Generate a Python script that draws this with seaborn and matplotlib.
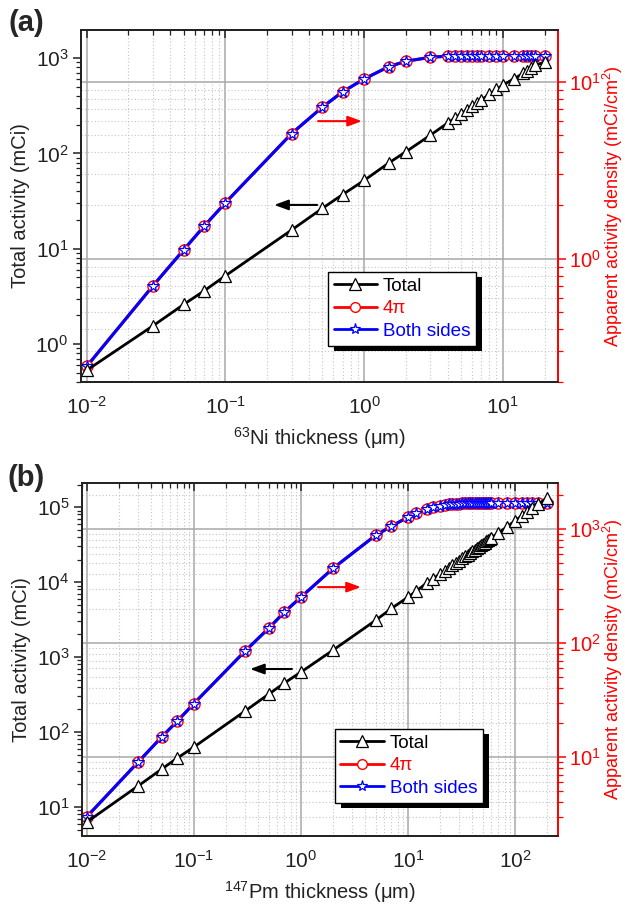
import matplotlib
matplotlib.use("Agg")
import matplotlib.pyplot as plt
import seaborn as sns
from matplotlib.lines import Line2D
from matplotlib.patches import Rectangle
from matplotlib.ticker import LogLocator, NullFormatter

# ---- data ----
# panel (a): 63Ni
x_a = [0.01, 0.03, 0.05, 0.07, 0.1, 0.3, 0.5, 0.7, 1, 1.5, 2, 3, 4, 4.5, 5,
       5.5, 6, 6.5, 7, 8, 9, 10, 12, 14, 15, 16, 17, 20]
total_a = [0.53, 1.55, 2.6, 3.6, 5.2, 15.7, 26.5, 37, 52, 79, 104, 155, 208, 234, 260,
           286, 312, 338, 364, 416, 468, 520, 605, 690, 736, 780, 845, 900]
fourpi_a = [0.245, 0.70, 1.12, 1.52, 2.07, 5.1, 7.2, 8.8, 10.4, 12.2, 13.1, 13.8, 14.0, 14.05, 14.1,
            14.1, 14.1, 14.1, 14.1, 14.1, 14.1, 14.1, 14.1, 14.1, 14.1, 14.1, 14.1, 14.1]
both_a = [0.245, 0.70, 1.12, 1.52, 2.07, 5.1, 7.2, 8.8, 10.4, 12.2, 13.1, 13.8, 14.0, 14.05, 14.1,
          14.1, 14.1, 14.1, 14.1, 14.1, 14.1, 14.1, 14.1, 14.1, 14.1, 14.1, 14.1, 14.1]

# panel (b): 147Pm
x_b = [0.01, 0.03, 0.05, 0.07, 0.1, 0.3, 0.5, 0.7, 1, 2, 5, 7, 10, 12, 15, 17,
       20, 22, 24, 26, 28, 30, 32, 34, 36, 38, 40, 42, 44, 46, 48, 50, 52, 54, 56, 58, 60,
       70, 85, 100, 115, 130, 145, 165, 200]
total_b = [6.3, 19, 32, 45, 63, 190, 320, 450, 630, 1240, 3100, 4450, 6300, 7600, 9800, 11000,
           12900, 14200, 15500, 16800, 18100, 19400, 20700, 22000, 23300, 24600, 25900, 27200,
           28500, 29800, 31000, 32300, 33600, 34900, 36200, 37500, 38800,
           45400, 55000, 66000, 76000, 86000, 96000, 109000, 134000]
fourpi_b = [3.0, 9.0, 15, 20.7, 29.5, 85, 135, 187, 253, 454, 885, 1060, 1275, 1380, 1490, 1560,
            1610, 1635, 1650, 1660, 1668, 1675, 1680, 1683, 1686, 1688, 1690, 1690, 1690, 1690,
            1690, 1690, 1690, 1690, 1690, 1690, 1690,
            1690, 1690, 1690, 1690, 1690, 1690, 1690, 1690]
both_b = list(fourpi_b)

RED = "#ff0000"
BLUE = "#0000ff"
INK = "#222222"

sns.set_style("white")
plt.rcParams['font.family'] = ['Liberation Sans', 'DejaVu Sans']
plt.rcParams['mathtext.fontset'] = 'custom'
plt.rcParams['mathtext.rm'] = 'Liberation Sans'
plt.rcParams['mathtext.it'] = 'Liberation Sans:italic'
plt.rcParams['mathtext.bf'] = 'Liberation Sans:bold'

TICK_FS = 15
LABEL_FS = 14.5


def panel(fig, rect, x, total, fourpi, both, xlim, ylim_l, ylim_r, xlabel,
          leg_xy, black_arrow, red_arrow, tag, tag_xy):
    ax_r = fig.add_axes(rect)          # density axis (right), carries the grid
    ax_r.set_xscale('log')
    ax_r.set_yscale('log')
    ax_l = ax_r.twinx()                # total activity axis (left), on top
    ax_l.set_yscale('log')

    ax_r.yaxis.tick_right()
    ax_r.yaxis.set_label_position('right')
    ax_l.yaxis.tick_left()
    ax_l.yaxis.set_label_position('left')

    # density lines first, then markers on top
    sns.lineplot(x=x, y=fourpi, ax=ax_r, color=RED, lw=2.2, sort=False)
    sns.lineplot(x=x, y=both, ax=ax_r, color=BLUE, lw=2.2, sort=False)
    sns.lineplot(x=x, y=fourpi, ax=ax_r, color=RED, ls='none', marker='o', ms=8,
                 mfc='white', mec=RED, mew=1.0, sort=False)
    sns.lineplot(x=x, y=both, ax=ax_r, color=BLUE, ls='none', marker='*', ms=8.5,
                 mfc='white', mec=BLUE, mew=0.9, sort=False)

    sns.lineplot(x=x, y=total, ax=ax_l, color='black', lw=2.0, marker='^', ms=9,
                 mfc='white', mec='black', mew=0.9, sort=False)

    ax_r.set_xlim(*xlim)
    ax_r.set_ylim(*ylim_r)
    ax_l.set_ylim(*ylim_l)

    for a in (ax_r, ax_l):
        a.yaxis.set_major_locator(LogLocator(base=10, numticks=20))
        a.yaxis.set_minor_locator(LogLocator(base=10, subs=range(2, 10), numticks=20))
        a.yaxis.set_minor_formatter(NullFormatter())
    ax_r.xaxis.set_major_locator(LogLocator(base=10, numticks=20))
    ax_r.xaxis.set_minor_locator(LogLocator(base=10, subs=range(2, 10), numticks=20))
    ax_r.xaxis.set_minor_formatter(NullFormatter())

    # grid
    ax_r.grid(which='major', axis='both', color='#a8a8a8', lw=1.1, ls='-')
    ax_r.grid(which='minor', axis='both', color='#c4c4c4', lw=0.8, ls=(0, (1, 2)))
    ax_l.grid(False)

    # spines
    for a in (ax_r, ax_l):
        for s in ('left', 'bottom', 'top'):
            a.spines[s].set_color(INK)
            a.spines[s].set_linewidth(1.3)
        a.spines['right'].set_color(RED)
        a.spines['right'].set_linewidth(1.3)

    # ticks
    ax_r.tick_params(axis='x', which='major', direction='out', length=6, width=1.1,
                     colors=INK, labelsize=TICK_FS, labelcolor=INK, pad=4)
    ax_r.tick_params(axis='x', which='minor', direction='out', length=3.5, width=0.9,
                     colors=INK)
    ax_r.tick_params(axis='y', which='major', direction='out', length=6, width=1.1,
                     colors=RED, labelsize=14.5, labelcolor=RED, pad=2)
    ax_r.tick_params(axis='y', which='minor', direction='out', length=3.5, width=0.9,
                     colors=RED)
    ax_l.tick_params(axis='y', which='major', direction='out', length=6, width=1.1,
                     colors=INK, labelsize=TICK_FS, pad=3)
    ax_l.tick_params(axis='y', which='minor', direction='out', length=3.5, width=0.9,
                     colors=INK)
    ax_l.xaxis.set_visible(True)
    ax_l.tick_params(axis='x', which='both', bottom=False, top=True, labelbottom=False,
                     labeltop=False, direction='in', colors=INK)
    ax_l.tick_params(axis='x', which='major', length=6, width=1.1)
    ax_l.tick_params(axis='x', which='minor', length=3.5, width=0.9)

    ax_r.set_xlabel(xlabel, fontsize=LABEL_FS, color=INK, labelpad=5)
    ax_l.set_ylabel('Total activity (mCi)', fontsize=LABEL_FS, color=INK, labelpad=4)
    ax_r.set_ylabel('Apparent activity density (mCi/cm$^2$)', fontsize=13, color=RED,
                    labelpad=0)

    # arrows
    ax_l.annotate('', xy=black_arrow[0], xytext=black_arrow[1], xycoords='axes fraction',
                  arrowprops=dict(arrowstyle='-|>,head_length=0.6,head_width=0.22',
                                  color='black', lw=1.5, mutation_scale=14,
                                  shrinkA=0, shrinkB=0))
    ax_l.annotate('', xy=red_arrow[0], xytext=red_arrow[1], xycoords='axes fraction',
                  arrowprops=dict(arrowstyle='-|>,head_length=0.6,head_width=0.22',
                                  color=RED, lw=1.5, mutation_scale=14,
                                  shrinkA=0, shrinkB=0))

    # legend
    handles = [
        Line2D([], [], color='black', lw=2, marker='^', ms=8, mfc='white', mec='black', mew=0.9),
        Line2D([], [], color=RED, lw=2, marker='o', ms=7, mfc='white', mec=RED, mew=1.0),
        Line2D([], [], color=BLUE, lw=2, marker='*', ms=8, mfc='white', mec=BLUE, mew=0.9),
    ]
    leg = ax_l.legend(handles, ['Total', '4π', 'Both sides'], loc='upper left',
                      bbox_to_anchor=leg_xy, bbox_transform=ax_l.transAxes,
                      borderaxespad=0, fancybox=False, framealpha=1, edgecolor='black',
                      fontsize=13.6, handlelength=2.3, handletextpad=0.3, labelspacing=0.28,
                      borderpad=0.3)
    leg.get_frame().set_linewidth(1.0)
    for t, c in zip(leg.get_texts(), ['black', RED, BLUE]):
        t.set_color(c)
    leg.set_zorder(6)

    fig.text(tag_xy[0], tag_xy[1], tag, fontsize=21, fontweight='bold',
             ha='center', va='center')
    return ax_l, leg


fig = plt.figure(figsize=(6.25, 9.06), dpi=100)

ax_a, leg_a = panel(fig, [0.1296, 0.5784, 0.7632, 0.3885], x_a, total_a, fourpi_a, both_a,
                    (0.0091, 25), (0.40, 1970), (0.2, 19.7),
                    r'$^{63}$Ni thickness (μm)', (0.518, 0.3125),
                    ((0.405, 0.503), (0.495, 0.503)), ((0.589, 0.741), (0.497, 0.741)),
                    '(a)', (0.042, 0.975))
ax_b, leg_b = panel(fig, [0.1312, 0.0773, 0.7616, 0.3896], x_b, total_b, fourpi_b, both_b,
                    (0.009, 252), (4.1, 2.1e5), (2.03, 2540),
                    r'$^{147}$Pm thickness (μm)', (0.531, 0.303),
                    ((0.353, 0.473), (0.441, 0.473)), ((0.586, 0.705), (0.496, 0.705)),
                    '(b)', (0.042, 0.472))

# solid black drop shadow behind each legend box
fig.canvas.draw()
for ax, leg in ((ax_a, leg_a), (ax_b, leg_b)):
    bb = leg.get_frame().get_window_extent().transformed(ax.transAxes.inverted())
    dx = 6 / ax.bbox.width
    dy = 5 / ax.bbox.height
    ax.add_patch(Rectangle((bb.x0 + dx, bb.y0 - dy), bb.width, bb.height,
                           transform=ax.transAxes, facecolor='black', edgecolor='none',
                           zorder=5.5, clip_on=False))

fig.savefig('out.png', dpi=100)
